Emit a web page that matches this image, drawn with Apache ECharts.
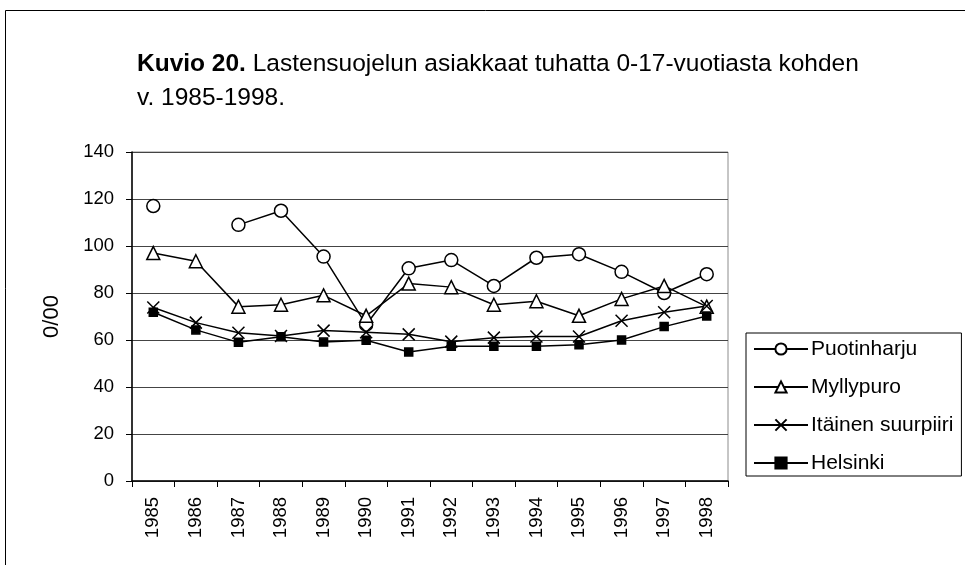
<!DOCTYPE html>
<html><head><meta charset="utf-8">
<script src="https://cdn.jsdelivr.net/npm/echarts@6/dist/echarts.min.js"></script>
<style>html,body{margin:0;padding:0;background:#fff}#c{width:965px;height:565px}</style>
</head><body><div id="c"></div>
<script>
const years = ['1985','1986','1987','1988','1989','1990','1991','1992','1993','1994','1995','1996','1997','1998'];
const puotinharju = [117, null, 109, 115, 95.5, 66.5, 90.5, 94, 83, 95, 96.5, 89, 80, 88];
const myllypuro = [97, 93.5, 74.2, 75, 79, 70.3, 84, 82.5, 75, 76.5, 70.3, 77.5, 83, 74.2];
const itainen = [73.8, 67.4, 63.1, 61.7, 64, 63.3, 62.4, 59.3, 61, 61.5, 61.5, 68.2, 71.8, 74.5];
const helsinki = [71.8, 64.3, 59, 61.4, 59.1, 59.9, 54.9, 57.3, 57.3, 57.3, 58, 60, 65.7, 70.2];
const yTicks = [0, 20, 40, 60, 80, 100, 120, 140];
const seriesNames = ['Puotinharju', 'Myllypuro', 'Itäinen suurpiiri', 'Helsinki'];

const chart = echarts.init(document.getElementById('c'), null, {renderer: 'canvas'});
const font = 'Liberation Sans, Arial, sans-serif';
const crossPath = 'path://M0,0L10,10M10,0L0,10';
function ser(name, data, symbol, size, fill) {
  return {
    name, type: 'line', data, symbol, symbolSize: size, connectNulls: false,
    lineStyle: {color: '#000', width: 1.5},
    itemStyle: {color: fill, borderColor: '#000', borderWidth: 1.5},
    emphasis: {disabled: true}, animation: false, z: 3
  };
}
chart.setOption({
  animation: false,
  backgroundColor: '#fff',
  textStyle: {fontFamily: font, color: '#000'},
  title: {
    left: 132, top: 42,
    text: '{b|Kuvio 20.} Lastensuojelun asiakkaat tuhatta 0-17-vuotiasta kohden\nv. 1985-1998.',
    textStyle: {
      fontFamily: font, fontSize: 24.5, fontWeight: 'normal', color: '#000', lineHeight: 34,
      rich: {b: {fontFamily: font, fontSize: 24.5, fontWeight: 'bold', color: '#000', lineHeight: 34}}
    }
  },
  graphic: [{
    type: 'rect', shape: {x: 5.5, y: 10.5, width: 1000, height: 600},
    style: {fill: 'none', stroke: '#000', lineWidth: 1}, silent: true, z: -1
  }],
  legend: {
    orient: 'vertical', left: 746, top: 333,
    data: seriesNames,
    backgroundColor: '#fff', borderColor: '#000', borderWidth: 1,
    padding: [5, 8, 2, 7], itemGap: 16, itemWidth: 54, itemHeight: 14,
    textStyle: {fontFamily: font, fontSize: 21, lineHeight: 22, color: '#000', padding: [0, 0, 0, -2]}
  },
  grid: {left: 132, right: 237, top: 152, bottom: 84, show: true, borderColor: '#8c8c8c', borderWidth: 1},
  xAxis: {
    type: 'category', data: years, boundaryGap: true,
    axisLine: {lineStyle: {color: '#000', width: 1.5}},
    axisTick: {show: true, length: 6, lineStyle: {color: '#000'}},
    axisLabel: {rotate: 90, fontSize: 18.5, color: '#000', fontFamily: font, margin: 16, interval: 0},
    splitLine: {show: false}
  },
  yAxis: {
    type: 'value', min: 0, max: 140, interval: 20,
    name: '0/00', nameLocation: 'middle', nameGap: 69, nameRotate: 90,
    nameTextStyle: {fontSize: 22, color: '#000', fontFamily: font},
    axisLine: {show: true, lineStyle: {color: '#000', width: 1.5}},
    axisTick: {show: true, length: 6, lineStyle: {color: '#000'}},
    axisLabel: {fontSize: 18.5, color: '#000', fontFamily: font, margin: 18,
      formatter: v => yTicks.includes(v) ? String(v) : ''},
    splitLine: {show: true, lineStyle: {color: '#444', width: 1}}
  },
  series: [
    ser(seriesNames[0], puotinharju, 'circle', 13, '#fff'),
    ser(seriesNames[1], myllypuro, 'triangle', 13, '#fff'),
    ser(seriesNames[2], itainen, crossPath, 12, 'none'),
    ser(seriesNames[3], helsinki, 'rect', 8, '#000')
  ]
});
</script></body></html>
